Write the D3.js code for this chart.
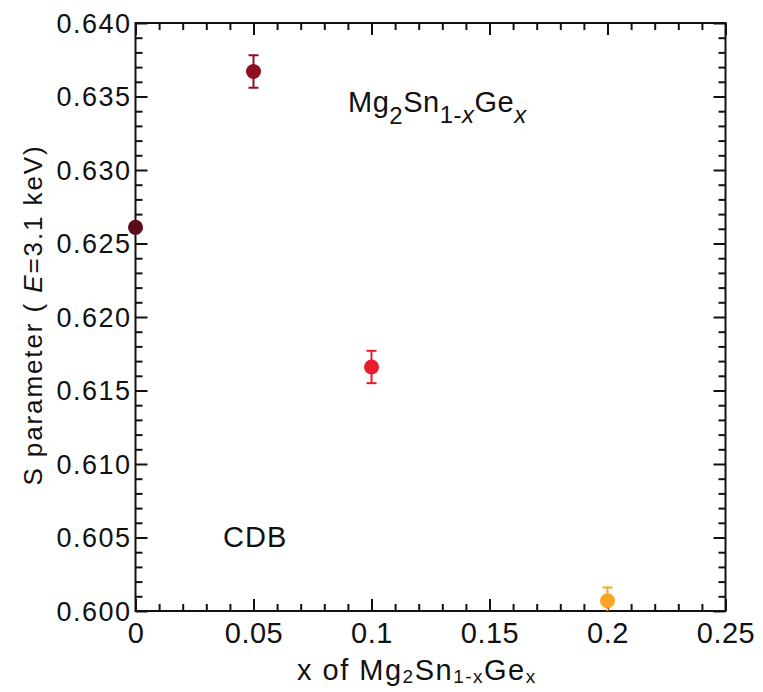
<!DOCTYPE html>
<html>
<head>
<meta charset="utf-8">
<script src="https://cdn.jsdelivr.net/npm/d3@7"></script>
<style>
  body { margin: 0; background: #fff; }
  svg { display: block; font-family: "Liberation Sans", Arial, sans-serif; }
</style>
</head>
<body>
<svg id="chart" width="763" height="692"></svg>
<script>
// Ge content x of Mg2Sn(1-x)Ge(x) and measured S parameter (E = 3.1 keV)
const compositions = [0, 0.05, 0.1, 0.2];
const sParameter   = [0.6261, 0.6367, 0.6166, 0.6007];
const sError       = [0.0003, 0.0011, 0.0011, 0.0009];

const xTicks      = [0, 0.05, 0.1, 0.15, 0.2, 0.25];
const xTickLabels = ["0", "0.05", "0.1", "0.15", "0.2", "0.25"];
const yTicks      = [0.600, 0.605, 0.610, 0.615, 0.620, 0.625, 0.630, 0.635, 0.640];
const yTickLabels = ["0.600", "0.605", "0.610", "0.615", "0.620", "0.625", "0.630", "0.635", "0.640"];

const pointColors = ["#5c0a1c", "#8c0f22", "#ea1b2b", "#f7a624"];

const svg = d3.select("#chart");
const plot = { left: 135.5, right: 725.5, top: 23, bottom: 611 };

const x = d3.scaleLinear().domain([0, 0.25]).range([plot.left, plot.right]);
const y = d3.scaleLinear().domain([0.600, 0.640]).range([plot.bottom, plot.top]);

const minorX = d3.range(0, 0.2501, 0.01).filter(v => Math.abs(v / 0.05 - Math.round(v / 0.05)) > 1e-6);
const minorY = d3.range(0.600, 0.64001, 0.001).filter(v => Math.abs(v / 0.005 - Math.round(v / 0.005)) > 1e-6);

const MAJOR = 12, MINOR = 7;

function styleAxis(g) {
  g.select(".domain").remove();
  g.selectAll(".tick line").attr("stroke", "#111").attr("stroke-width", 2);
}

// Bottom axis: major ticks with labels, minor ticks without
const bottom = svg.append("g").attr("transform", `translate(0,${plot.bottom})`);
bottom.call(d3.axisBottom(x).tickValues(xTicks).tickSize(-MAJOR)
    .tickFormat((d, i) => xTickLabels[i]).tickPadding(0))
  .call(styleAxis);
bottom.selectAll(".tick text")
  .attr("y", 32).attr("dy", 0)
  .attr("font-size", 29).attr("fill", "#111")
  .style("letter-spacing", "0.5px");
svg.append("g").attr("transform", `translate(0,${plot.bottom})`)
  .call(d3.axisBottom(x).tickValues(minorX).tickSize(-MINOR).tickFormat(""))
  .call(styleAxis);

// Top axis mirrors the ticks, pointing inward
svg.append("g").attr("transform", `translate(0,${plot.top})`)
  .call(d3.axisTop(x).tickValues(xTicks).tickSize(-MAJOR).tickFormat(""))
  .call(styleAxis);
svg.append("g").attr("transform", `translate(0,${plot.top})`)
  .call(d3.axisTop(x).tickValues(minorX).tickSize(-MINOR).tickFormat(""))
  .call(styleAxis);

// Left axis
const left = svg.append("g").attr("transform", `translate(${plot.left},0)`);
left.call(d3.axisLeft(y).tickValues(yTicks).tickSize(-MAJOR)
    .tickFormat((d, i) => yTickLabels[i]).tickPadding(0))
  .call(styleAxis);
left.selectAll(".tick text")
  .attr("x", -4).attr("dy", "0.34em")
  .attr("font-size", 27).attr("fill", "#111")
  .style("letter-spacing", "1.5px");
svg.append("g").attr("transform", `translate(${plot.left},0)`)
  .call(d3.axisLeft(y).tickValues(minorY).tickSize(-MINOR).tickFormat(""))
  .call(styleAxis);

// Right axis mirror
svg.append("g").attr("transform", `translate(${plot.right},0)`)
  .call(d3.axisRight(y).tickValues(yTicks).tickSize(-MAJOR).tickFormat(""))
  .call(styleAxis);
svg.append("g").attr("transform", `translate(${plot.right},0)`)
  .call(d3.axisRight(y).tickValues(minorY).tickSize(-MINOR).tickFormat(""))
  .call(styleAxis);

// Frame
svg.append("rect")
  .attr("x", plot.left).attr("y", plot.top)
  .attr("width", plot.right - plot.left).attr("height", plot.bottom - plot.top)
  .attr("fill", "none").attr("stroke", "#111").attr("stroke-width", 2);

// Data points with error bars
svg.append("clipPath").attr("id", "plot-clip")
  .append("rect")
  .attr("x", plot.left - 20).attr("y", plot.top)
  .attr("width", plot.right - plot.left + 40).attr("height", plot.bottom - plot.top);

const points = compositions.map((c, i) => ({ c, s: sParameter[i], e: sError[i], color: pointColors[i] }));

const bars = svg.append("g").attr("clip-path", "url(#plot-clip)");
const cap = 5;
bars.selectAll("g.err").data(points).join("g").attr("class", "err")
  .each(function (d) {
    const g = d3.select(this);
    const cx = x(d.c), y0 = y(d.s - d.e), y1 = y(d.s + d.e);
    g.append("line").attr("x1", cx).attr("x2", cx).attr("y1", y0).attr("y2", y1);
    g.append("line").attr("x1", cx - cap).attr("x2", cx + cap).attr("y1", y0).attr("y2", y0);
    g.append("line").attr("x1", cx - cap).attr("x2", cx + cap).attr("y1", y1).attr("y2", y1);
    g.selectAll("line").attr("stroke", d.color).attr("stroke-width", 2);
  });

svg.append("g").selectAll("circle").data(points).join("circle")
  .attr("cx", d => x(d.c)).attr("cy", d => y(d.s))
  .attr("r", 7.5).attr("fill", d => d.color);

// In-plot labels
const formula = svg.append("text")
  .attr("x", 348).attr("y", 112)
  .attr("font-size", 29).attr("fill", "#111")
  .style("letter-spacing", "0.5px");
formula.append("tspan").text("Mg");
formula.append("tspan").attr("font-size", 24).attr("dy", 12).text("2");
formula.append("tspan").attr("dy", -12).text("Sn");
formula.append("tspan").attr("font-size", 24).attr("dy", 11).text("1-");
formula.append("tspan").attr("font-size", 24).attr("font-style", "italic").text("x");
formula.append("tspan").attr("dy", -11).text("Ge");
formula.append("tspan").attr("font-size", 24).attr("dy", 11).attr("font-style", "italic").text("x");

svg.append("text")
  .attr("x", 223).attr("y", 547)
  .attr("font-size", 29).attr("fill", "#111")
  .style("letter-spacing", "1px")
  .text("CDB");

// Axis titles
const xTitle = svg.append("text")
  .attr("x", 297).attr("y", 680)
  .attr("font-size", 29).attr("fill", "#111")
  .style("letter-spacing", "1.5px");
xTitle.append("tspan").text("x of Mg");
xTitle.append("tspan").attr("font-size", 19).attr("dy", 3).text("2");
xTitle.append("tspan").attr("dy", -3).text("Sn");
xTitle.append("tspan").attr("font-size", 19).attr("dy", 3).text("1-x");
xTitle.append("tspan").attr("dy", -3).text("Ge");
xTitle.append("tspan").attr("font-size", 19).attr("dy", 3).text("x");

const yTitle = svg.append("text")
  .attr("transform", "translate(42,315) rotate(-90)")
  .attr("text-anchor", "middle")
  .attr("font-size", 26).attr("fill", "#111")
  .style("letter-spacing", "1.9px");
yTitle.append("tspan").text("S parameter ( ");
yTitle.append("tspan").attr("font-style", "italic").text("E");
yTitle.append("tspan").text("=3.1 keV)");
</script>
</body>
</html>
